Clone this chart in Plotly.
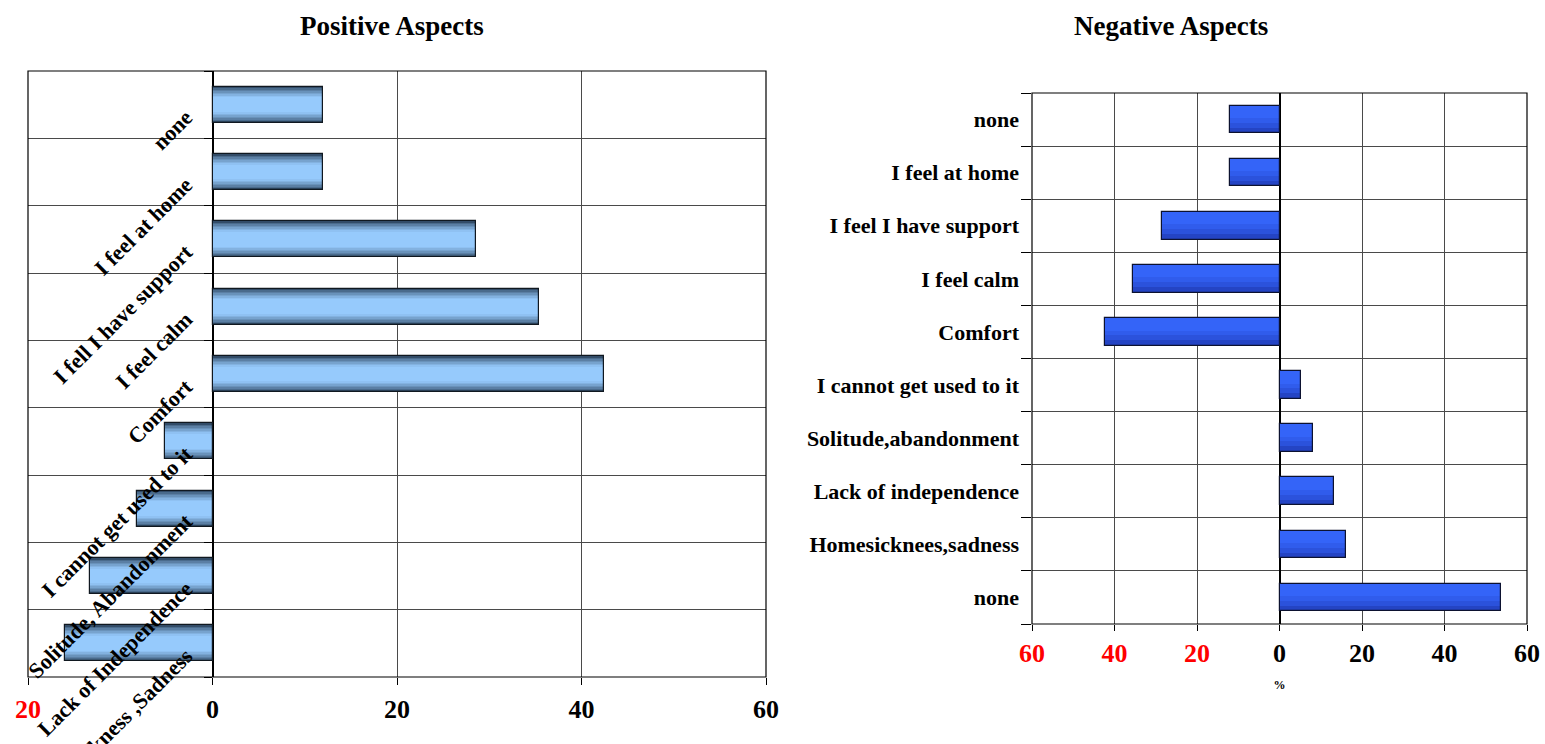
import plotly.graph_objects as go

# ---- data (% of residents) ----
pos_labels_left = ["none", "I feel at home", "I fell I have support", "I feel calm", "Comfort"]
neg_labels_left = ["I cannot get used to it", "Solitude, Abandonment",
                   "Lack of Independence", "Homesickness ,Sadness"]

pos_labels_right = ["none", "I feel at home", "I feel I have support", "I feel calm", "Comfort"]
neg_labels_right = ["I cannot get used to it", "Solitude,abandonment",
                    "Lack of independence", "Homesicknees,sadness", "none"]

pos_values = [12.0, 12.0, 28.6, 35.4, 42.4]
neg_values = [5.1, 8.2, 13.3, 16.0]
neg_none_value = 53.7

x_ticks_left = [-20, 0, 20, 40, 60]
x_ticks_right = [-60, -40, -20, 0, 20, 40, 60]

# ---- style ----
FONT = "Liberation Serif"
W, H = 1545, 744
RED = "#ff0000"


def tick_text(vals):
    out = []
    for v in vals:
        if v < 0:
            out.append(f'<span style="color:{RED}">{abs(v)}</span>')
        else:
            out.append(str(v))
    return out


def mix(c1, c2, t):
    t = max(0.0, min(1.0, t))
    r, g, b = (round(a + (b_ - a) * t) for a, b_ in zip(c1, c2))
    return f"rgb({r},{g},{b})"


left_labels = pos_labels_left + neg_labels_left
left_x = pos_values + [-v for v in neg_values]
left_y = list(range(len(left_labels)))

right_labels = pos_labels_right + neg_labels_right
right_x = [-v for v in pos_values] + neg_values + [neg_none_value]
right_y = list(range(len(right_labels)))

fig = go.Figure()

# Left panel: shaded light-blue bars built from nested layers
bw_l = 0.53
dark = (50, 76, 104)
light = (150, 202, 252)
n_layers = 12
for k in range(n_layers):
    frac = 1 - k / n_layers
    t = (1 - frac) / 0.55
    fig.add_trace(go.Bar(
        x=left_x, y=left_y, orientation="h", width=bw_l * frac,
        marker=dict(color=mix(dark, light, t ** 0.75), line=dict(width=0)),
        xaxis="x", yaxis="y", showlegend=False, hoverinfo="skip"))
fig.add_trace(go.Bar(
    x=left_x, y=left_y, orientation="h", width=bw_l,
    marker=dict(color="rgba(0,0,0,0)", line=dict(width=1.2, color="#101820")),
    xaxis="x", yaxis="y", showlegend=False, hoverinfo="skip"))

# Right panel: blue bars, darker toward the lower edge
bw_r = 0.52
blue_layers = [(1.0, "#2444c4"), (0.8, "#2b52dc"), (0.62, "#305cec"), (0.45, "#3464f8")]
for frac, col in blue_layers:
    fig.add_trace(go.Bar(
        x=right_x, y=right_y, orientation="h", width=bw_r * frac, offset=-bw_r / 2,
        marker=dict(color=col, line=dict(width=0)),
        xaxis="x2", yaxis="y2", showlegend=False, hoverinfo="skip"))
fig.add_trace(go.Bar(
    x=right_x, y=right_y, orientation="h", width=bw_r, offset=-bw_r / 2,
    marker=dict(color="rgba(0,0,0,0)", line=dict(width=1.2, color="#0c1230")),
    xaxis="x2", yaxis="y2", showlegend=False, hoverinfo="skip"))

GRID = "#4a4a4a"
tick_font = dict(family=FONT, size=26, color="black", weight="bold")
cat_font_left = dict(family=FONT, size=22, color="black", weight="bold")
cat_font_right = dict(family=FONT, size=22, color="black", weight="bold")
title_font = dict(family=FONT, size=27, weight="bold", color="black")

left_dom_x = [28 / W, 766 / W]
left_dom_y = [1 - 677 / H, 1 - 71 / H]
right_dom_x = [1032 / W, 1527 / W]
right_dom_y = [1 - 624 / H, 1 - 93 / H]

fig.update_layout(
    width=W, height=H,
    margin=dict(l=0, r=0, t=0, b=0),
    paper_bgcolor="white", plot_bgcolor="white",
    barmode="overlay", bargap=0,
    font=dict(family=FONT, color="black"),
    xaxis=dict(
        domain=left_dom_x, anchor="y", range=[-20, 60],
        tickmode="array", tickvals=x_ticks_left, ticktext=tick_text(x_ticks_left),
        tickfont=tick_font, ticks="outside", ticklen=7, tickcolor="black",
        ticklabelstandoff=2,
        showgrid=True, gridcolor=GRID, gridwidth=1,
        zeroline=True, zerolinecolor="black", zerolinewidth=1.5,
        showline=False, automargin=False, fixedrange=True),
    yaxis=dict(
        domain=left_dom_y, anchor="free", position=212 / W,
        range=[len(left_labels) - 0.5, -0.5],
        tickmode="array", tickvals=left_y, ticktext=left_labels,
        tickangle=-45, tickfont=cat_font_left, ticks="",
        ticklabelstandoff=26, ticklabelshift=-10, ticklabeloverflow="allow",
        showgrid=False, zeroline=False, showline=False,
        minor=dict(tickmode="array",
                   tickvals=[i - 0.5 for i in range(len(left_labels) + 1)],
                   showgrid=True, gridcolor=GRID, gridwidth=1,
                   ticks="outside", ticklen=8, tickcolor="black"),
        automargin=False, fixedrange=True),
    xaxis2=dict(
        domain=right_dom_x, anchor="y2", range=[-60, 60],
        tickmode="array", tickvals=x_ticks_right, ticktext=tick_text(x_ticks_right),
        tickfont=tick_font, ticks="outside", ticklen=6, tickcolor="black",
        ticklabelstandoff=0,
        showgrid=True, gridcolor=GRID, gridwidth=1,
        zeroline=True, zerolinecolor="black", zerolinewidth=2,
        showline=False, automargin=False, fixedrange=True,
        title=dict(text="%", font=dict(family=FONT, size=12, weight="bold"), standoff=13)),
    yaxis2=dict(
        domain=right_dom_y, anchor="x2",
        range=[len(right_labels) - 0.5, -0.5],
        tickmode="array", tickvals=right_y, ticktext=right_labels,
        tickfont=cat_font_right, ticks="", ticklabelstandoff=12,
        showgrid=False, zeroline=False, showline=False,
        minor=dict(tickmode="array",
                   tickvals=[i - 0.5 for i in range(len(right_labels) + 1)],
                   showgrid=True, gridcolor=GRID, gridwidth=1,
                   ticks="outside", ticklen=10, tickcolor="black"),
        automargin=False, fixedrange=True),
    shapes=[
        dict(type="rect", xref="x domain", yref="y domain", x0=0, x1=1, y0=0, y1=1,
             line=dict(color="black", width=1.2), layer="above"),
        dict(type="rect", xref="x2 domain", yref="y2 domain", x0=0, x1=1, y0=0, y1=1,
             line=dict(color="black", width=1.2), layer="above"),
    ],
    annotations=[
        dict(text="Positive Aspects", x=392 / W, y=1 - 26 / H, xref="paper", yref="paper",
             xanchor="center", yanchor="middle", showarrow=False, font=title_font),
        dict(text="Negative Aspects", x=1171 / W, y=1 - 26 / H, xref="paper", yref="paper",
             xanchor="center", yanchor="middle", showarrow=False, font=title_font),
    ],
)

fig.write_html("out.html")
